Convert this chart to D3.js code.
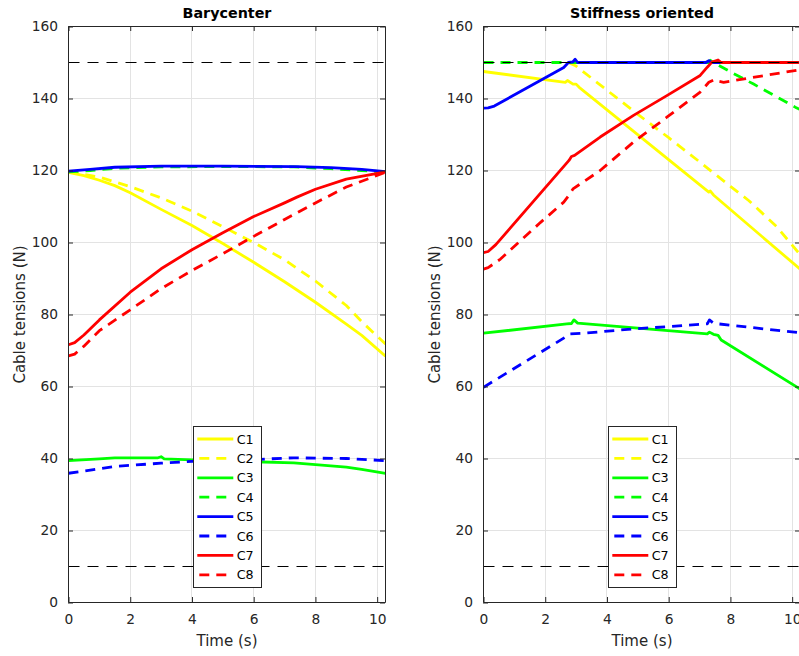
<!DOCTYPE html>
<html>
<head>
<meta charset="utf-8">
<script src="https://cdn.jsdelivr.net/npm/d3@7"></script>
<style>
  html, body { margin: 0; padding: 0; background: #fff; }
  svg { display: block; font-family: "DejaVu Sans", sans-serif; }
</style>
</head>
<body>
<div id="chart"></div>
<script>
// ---------- Data ----------
const seriesNames = ["C1", "C2", "C3", "C4", "C5", "C6", "C7", "C8"];
const seriesColors = ["#ffff00", "#ffff00", "#00ff00", "#00ff00", "#0000ff", "#0000ff", "#ff0000", "#ff0000"];
const seriesDashed = [false, true, false, true, false, true, false, true];
const xTicks = [0, 2, 4, 6, 8, 10];
const yTicks = [0, 20, 40, 60, 80, 100, 120, 140, 160];
const limitValues = [150, 10];
const titles = ["Barycenter", "Stiffness oriented"];

// Barycenter  [time, tension]
const baryC1 = [[0,119.5],[0.5,118.6],[1,117.3],[1.5,115.8],[2,113.8],[3,109.2],[4,104.7],[5,99.7],[6,94.5],[7,89.1],[8,83.4],[9,77.3],[9.5,74.2],[10.27,68.4]];
const baryC2 = [[0,119.6],[1,118.2],[2,115.5],[3,112.4],[4,108.7],[5,104.4],[6,100],[7,95.2],[8,89.3],[9,82.5],[9.5,78],[10.27,71.8]];
const baryC3 = [[0,39.4],[1,39.9],[1.5,40.2],[2.9,40.2],[3,40.5],[3.1,39.9],[4,39.6],[6,39.1],[7.3,38.8],[8,38.3],[9,37.6],[9.5,37],[10.27,35.9]];
const baryC4 = [[0,119.6],[0.7,120],[1.5,120.6],[3,121],[5,121.1],[7.3,121],[8.5,120.5],[9.5,120],[10.27,119.6]];
const baryC5 = [[0,119.8],[0.7,120.3],[1.5,120.9],[3,121.2],[5,121.2],[7.4,121.1],[8.5,120.8],[9.5,120.3],[10.27,119.7]];
const baryC6 = [[0,35.9],[0.5,36.5],[1.5,37.8],[2,38.1],[3,38.7],[4,39.2],[5,39.4],[6,39.7],[7.3,40.2],[8,40.1],[9,40],[10.27,39.4]];
const baryC7 = [[0,71.6],[0.2,72.2],[0.5,74.3],[1,78.5],[2,86.2],[3,92.7],[4,98],[5,102.7],[6,107.2],[7,111],[7.4,112.6],[8,114.8],[9,117.6],[10.27,119.6]];
const baryC8 = [[0,68.5],[0.2,69],[0.5,71.2],[1,75.5],[2,81.3],[3,87.2],[4,92.2],[5,96.9],[6,101.7],[7,106.4],[8,111],[9,115.4],[10.27,119.5]];

// Stiffness oriented  [time, tension]
const stiffC1 = [[0,147.5],[2.65,144.5],[2.72,145],[2.9,144],[3.0,144],[3.1,143.1],[7.3,114],[7.35,114.3],[7.45,113.2],[10.27,92.5]];
const stiffC2 = [[2.75,150],[3.0,149],[4,142.3],[5,135.6],[6,129.1],[7,122.4],[8,115.6],[8.6,111.6],[9.5,104.4],[10.27,96.5]];
const stiffC3 = [[0,74.8],[2.7,77.4],[2.85,77.5],[2.93,78.5],[3.05,77.6],[7.25,74.6],[7.32,75.1],[7.45,74.5],[7.6,74.2],[7.7,72.9],[10.27,59.2]];
const stiffC4 = [[0,150],[2.75,150],[7.3,150],[7.35,150.6],[7.45,150],[8,147.4],[8.75,144],[10.1,137.6],[10.27,136.9]];
const stiffC5 = [[0,137.3],[0.15,137.4],[0.35,137.9],[2.6,148.6],[2.75,150],[2.9,150.2],[2.97,150.9],[3.05,150],[7.2,150],[7.3,150.5],[7.4,150],[10.27,150]];
const stiffC6 = [[0,59.8],[2.65,73.7],[2.8,74.6],[3.25,74.8],[4.86,76],[5.94,76.6],[7.25,77.4],[7.32,78.5],[7.45,77.6],[7.6,77.4],[10.27,74.9]];
const stiffC7 = [[0,97.2],[0.15,97.5],[0.4,99.4],[2.77,122.8],[2.85,123.9],[2.95,124.2],[3.78,129.3],[4.86,135.3],[5.94,140.8],[7.02,146.4],[7.25,148.7],[7.4,150.1],[7.6,150.7],[7.7,150],[10.27,150]];
const stiffC8 = [[0,92.6],[0.15,93],[0.55,95.4],[1.85,105.6],[2.6,111.2],[2.8,113.5],[2.9,114.9],[3.78,120],[4.86,127.9],[5.94,134.8],[7.02,141.8],[7.3,144.5],[7.5,145.3],[7.6,144.8],[7.78,144.5],[10.27,148]];

const panelsData = [
  [baryC1, baryC2, baryC3, baryC4, baryC5, baryC6, baryC7, baryC8],
  [stiffC1, stiffC2, stiffC3, stiffC4, stiffC5, stiffC6, stiffC7, stiffC8]
];

// ---------- Layout ----------
const W = 799, H = 656;
const panels = [
  { left: 68.5, right: 385.5, top: 26.5, bottom: 602.5, legendX: 193 },
  { left: 483.5, right: 800.5, top: 26.5, bottom: 602.5, legendX: 608 }
];
const textColor = "#262626";

const svg = d3.select("#chart").append("svg").attr("width", W).attr("height", H);

panels.forEach((p, pi) => {
  const x = d3.scaleLinear().domain([0, 10.27]).range([p.left, p.right]);
  const y = d3.scaleLinear().domain([0, 160]).range([p.bottom, p.top]);
  const g = svg.append("g");
  const crisp = v => Math.floor(v) + 0.5;

  // clip
  const clipId = "clip" + pi;
  svg.append("clipPath").attr("id", clipId).append("rect")
    .attr("x", p.left).attr("y", p.top).attr("width", p.right - p.left).attr("height", p.bottom - p.top);

  // grid
  g.append("g").selectAll("line").data(xTicks).join("line")
    .attr("x1", d => crisp(x(d))).attr("x2", d => crisp(x(d)))
    .attr("y1", p.top).attr("y2", p.bottom)
    .attr("stroke", "#e3e3e3").attr("stroke-width", 1);
  g.append("g").selectAll("line").data(yTicks).join("line")
    .attr("y1", d => crisp(y(d))).attr("y2", d => crisp(y(d)))
    .attr("x1", p.left).attr("x2", p.right)
    .attr("stroke", "#e3e3e3").attr("stroke-width", 1);

  // series
  const line = d3.line().x(d => x(d[0])).y(d => y(d[1]));
  const sg = g.append("g").attr("clip-path", `url(#${clipId})`);
  panelsData[pi].forEach((data, si) => {
    sg.append("path").datum(data)
      .attr("d", line)
      .attr("fill", "none")
      .attr("stroke", seriesColors[si])
      .attr("stroke-width", 2.8)
      .attr("stroke-linejoin", "round")
      .attr("stroke-dasharray", seriesDashed[si] ? "10,7" : null);
  });

  // limit lines
  sg.selectAll(".lim").data(limitValues).join("line")
    .attr("x1", p.left).attr("x2", p.right)
    .attr("y1", d => crisp(y(d))).attr("y2", d => crisp(y(d)))
    .attr("stroke", "#000").attr("stroke-width", 1)
    .attr("stroke-dasharray", "11,8");

  // axes box
  const xAxisB = d3.axisBottom(x).tickValues(xTicks).tickSize(-5).tickPadding(12).tickFormat(d3.format("d"));
  const xAxisT = d3.axisTop(x).tickValues(xTicks).tickSize(-5).tickFormat("");
  const yAxisL = d3.axisLeft(y).tickValues(yTicks).tickSize(-5).tickPadding(10).tickFormat(d3.format("d"));
  const yAxisR = d3.axisRight(y).tickValues(yTicks).tickSize(-5).tickFormat("");

  const styleAxis = sel => {
    sel.selectAll("path").attr("stroke", textColor).attr("stroke-width", 1);
    sel.selectAll("line").attr("stroke", textColor).attr("stroke-width", 1);
    sel.selectAll("text").attr("fill", textColor).style("font-family", "DejaVu Sans").style("font-size", "13.8px");
  };
  g.append("g").attr("transform", `translate(0,${p.bottom - 0.5})`).call(xAxisB).call(styleAxis)
    .call(s => s.selectAll("path").attr("d", `M${p.left},0.5H${p.right}`));
  g.append("g").attr("transform", `translate(0,${p.top - 0.5})`).call(xAxisT).call(styleAxis)
    .call(s => s.selectAll("path").attr("d", `M${p.left},0.5H${p.right}`));
  g.append("g").attr("transform", `translate(${p.left - 0.5},0)`).call(yAxisL).call(styleAxis)
    .call(s => s.selectAll("path").attr("d", `M0.5,${p.top}V${p.bottom}`));
  g.append("g").attr("transform", `translate(${p.right - 0.5},0)`).call(yAxisR).call(styleAxis)
    .call(s => s.selectAll("path").attr("d", `M0.5,${p.top}V${p.bottom}`));

  // title
  g.append("text").attr("x", (p.left + p.right) / 2).attr("y", 17.5)
    .attr("text-anchor", "middle").style("font-weight", "bold").style("font-size", "14.3px")
    .attr("fill", "#000").text(titles[pi]);
  // x label
  g.append("text").attr("x", (p.left + p.right) / 2).attr("y", 646)
    .attr("text-anchor", "middle").style("font-size", "15px").attr("fill", textColor).text("Time (s)");
  // y label
  g.append("text").attr("transform", `translate(${p.left - 44},${(p.top + p.bottom) / 2}) rotate(-90)`)
    .attr("text-anchor", "middle").style("font-size", "15px").attr("fill", textColor).text("Cable tensions (N)");

  // legend
  const lg = g.append("g").attr("transform", `translate(${p.legendX},426)`);
  lg.append("rect").attr("x", 0.5).attr("y", 0.5).attr("width", 68).attr("height", 161)
    .attr("fill", "#fff").attr("stroke", textColor).attr("stroke-width", 1);
  const rows = lg.selectAll(".row").data(seriesNames).join("g")
    .attr("transform", (d, i) => `translate(0,${13 + i * 19.4})`);
  rows.append("line").attr("x1", 4.3).attr("x2", 40.3).attr("y1", 0).attr("y2", 0)
    .attr("stroke", (d, i) => seriesColors[i]).attr("stroke-width", 2.8)
    .attr("stroke-dasharray", (d, i) => seriesDashed[i] ? "10,7" : null)
    .attr("stroke-dashoffset", (d, i) => seriesDashed[i] ? -2 : null);
  rows.append("text").attr("x", 43.7).attr("y", 0).attr("dy", "0.36em")
    .style("font-size", "12.7px").attr("fill", "#000").text(d => d);
});
</script>
</body>
</html>
